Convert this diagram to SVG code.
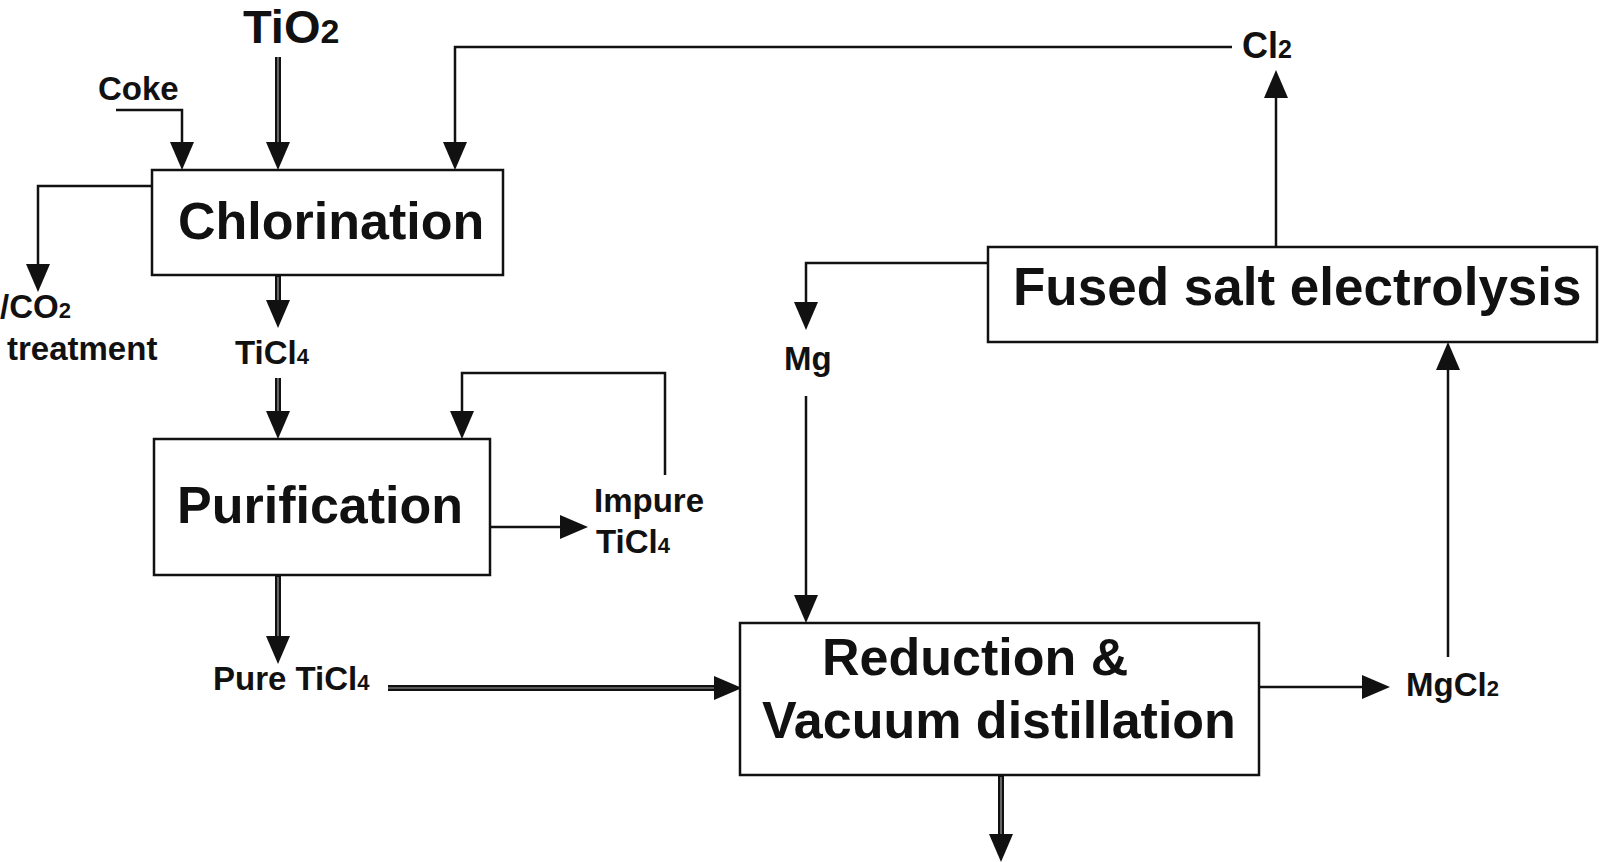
<svg xmlns="http://www.w3.org/2000/svg" xmlns:xlink="http://www.w3.org/1999/xlink" width="1600" height="862" viewBox="0 0 1600 862">
<style>
.box{fill:#fff;stroke:#111;stroke-width:2.5}
.big{font-family:"Liberation Sans",Arial,sans-serif;font-weight:bold;font-size:52px;fill:#111}
.lbl{font-family:"Liberation Sans",Arial,sans-serif;font-weight:bold;font-size:33px;fill:#111}
.sub{font-size:22px}
.thin{fill:none;stroke:#111;stroke-width:2.5}
.thick{fill:none;stroke:#111;stroke-width:6}
.gap{fill:none;stroke:#fff;stroke-width:1.2;opacity:0.6}
.ah{fill:#111}
</style>
<defs>
<path id="ah" class="ah" d="M0,0 L-12,-28 L12,-28 Z"/>
</defs>
<rect width="1600" height="862" fill="#fff"/>
<g id="connectors">
<!-- Coke -->
<path class="thin" d="M116,110 H182 V150"/>
<use xlink:href="#ah" transform="translate(182,170)"/>
<!-- TiO2 -->
<path class="thick" d="M278,57 V150"/>
<path class="gap" d="M278,57 V148"/>
<use xlink:href="#ah" transform="translate(278,170)"/>
<!-- Cl2 recycle -->
<path class="thin" d="M1232,47 H455 V150"/>
<use xlink:href="#ah" transform="translate(455,170)"/>
<!-- off-gas -->
<path class="thin" d="M152,186 H38 V270"/>
<use xlink:href="#ah" transform="translate(38,292)"/>
<!-- Chlorination to TiCl4 -->
<path class="thick" d="M278,275 V310"/>
<path class="gap" d="M278,277 V308"/>
<use xlink:href="#ah" transform="translate(278,328)"/>
<!-- TiCl4 to Purification -->
<path class="thick" d="M278,378 V420"/>
<path class="gap" d="M278,378 V418"/>
<use xlink:href="#ah" transform="translate(278,439)"/>
<!-- Purification recycle -->
<path class="thin" d="M665,475 V373 H462 V420"/>
<use xlink:href="#ah" transform="translate(462,439)"/>
<!-- Purification to Impure -->
<path class="thin" d="M490,527 H566"/>
<use xlink:href="#ah" transform="translate(588,527) rotate(-90)"/>
<!-- Purification to Pure -->
<path class="thick" d="M278,575 V645"/>
<path class="gap" d="M278,577 V643"/>
<use xlink:href="#ah" transform="translate(278,664)"/>
<!-- Pure TiCl4 to Reduction -->
<path class="thick" d="M388,688 H722"/>
<path class="gap" d="M388,688 H720"/>
<use xlink:href="#ah" transform="translate(742,688) rotate(-90)"/>
<!-- Mg to Reduction -->
<path class="thin" d="M806,396 V605"/>
<use xlink:href="#ah" transform="translate(806,623)"/>
<!-- Fused to Mg -->
<path class="thin" d="M988,263 H806 V310"/>
<use xlink:href="#ah" transform="translate(806,330)"/>
<!-- Fused to Cl2 -->
<path class="thin" d="M1276,247 V90"/>
<use xlink:href="#ah" transform="translate(1276,70) rotate(180)"/>
<!-- Reduction to MgCl2 -->
<path class="thin" d="M1259,687 H1370"/>
<use xlink:href="#ah" transform="translate(1390,687) rotate(-90)"/>
<!-- MgCl2 to Fused -->
<path class="thin" d="M1448,657 V360"/>
<use xlink:href="#ah" transform="translate(1448,342) rotate(180)"/>
<!-- Reduction out -->
<path class="thick" d="M1001,775 V842"/>
<path class="gap" d="M1001,777 V840"/>
<use xlink:href="#ah" transform="translate(1001,862)"/>
</g>
<g id="chlorination">
<rect class="box" x="152" y="170" width="351" height="105"/>
<text class="big" x="178" y="239">Chlorination</text>
</g>
<g id="purification">
<rect class="box" x="154" y="439" width="336" height="136"/>
<text class="big" x="177" y="523">Purification</text>
</g>
<g id="electrolysis">
<rect class="box" x="988" y="247" width="609" height="95"/>
<text class="big" x="1013" y="305" style="font-size:53px">Fused salt electrolysis</text>
</g>
<g id="reduction">
<rect class="box" x="740" y="623" width="519" height="152"/>
<text class="big" x="822" y="675">Reduction &amp;</text>
<text class="big" x="762" y="738">Vacuum distillation</text>
</g>
<g id="labels">
<text class="lbl" x="243" y="43" style="font-size:47px">TiO<tspan style="font-size:34px">2</tspan></text>
<text class="lbl" x="98" y="100">Coke</text>
<text class="lbl" x="1242" y="58" style="font-size:36px">Cl<tspan style="font-size:25px">2</tspan></text>
<text class="lbl" x="0" y="318">/CO<tspan class="sub">2</tspan></text>
<text class="lbl" x="7" y="360">treatment</text>
<text class="lbl" x="235" y="364">TiCl<tspan class="sub">4</tspan></text>
<text class="lbl" x="784" y="370">Mg</text>
<text class="lbl" x="594" y="512">Impure</text>
<text class="lbl" x="596" y="553">TiCl<tspan class="sub">4</tspan></text>
<text class="lbl" x="213" y="690">Pure TiCl<tspan class="sub">4</tspan></text>
<text class="lbl" x="1406" y="696">MgCl<tspan class="sub">2</tspan></text>
</g>
</svg>
